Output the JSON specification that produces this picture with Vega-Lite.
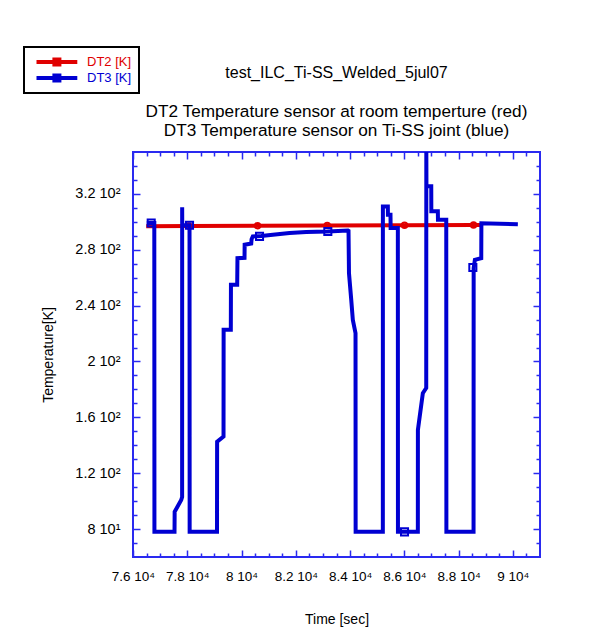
{
  "$schema": "https://vega.github.io/schema/vega-lite/v6.json",
  "width": 407,
  "height": 405,
  "autosize": {"type": "none"},
  "padding": {"left": 133, "top": 152, "right": 59, "bottom": 77},
  "background": "white",
  "title": {
    "text": "test_ILC_Ti-SS_Welded_5jul07",
    "subtitle": ["DT2 Temperature sensor at room temperture (red)", "DT3 Temperature sensor on Ti-SS joint (blue)"],
    "anchor": "middle",
    "frame": "group",
    "font": "Liberation Sans",
    "fontSize": 16,
    "fontWeight": "normal",
    "color": "black",
    "subtitleFont": "Liberation Sans",
    "subtitleFontSize": 17.2,
    "subtitleColor": "black",
    "subtitlePadding": 22,
    "subtitleLineHeight": 18.5,
    "offset": -93
  },
  "datasets": {
    "dt2": [
      {"i": 1, "t": 76487, "T": 296.8, "series": "DT2 [K]"},
      {"i": 2, "t": 78057, "T": 297.0, "series": "DT2 [K]"},
      {"i": 3, "t": 80589, "T": 297.2, "series": "DT2 [K]"},
      {"i": 4, "t": 83158, "T": 297.4, "series": "DT2 [K]"},
      {"i": 5, "t": 86007, "T": 297.6, "series": "DT2 [K]"},
      {"i": 6, "t": 88551, "T": 297.8, "series": "DT2 [K]"},
      {"i": 7, "t": 88835, "T": 297.8, "series": "DT2 [K]"}
    ],
    "dt2m": [
      {"t": 78057, "T": 297.0},
      {"t": 80589, "T": 297.2},
      {"t": 83158, "T": 297.4},
      {"t": 86007, "T": 297.6},
      {"t": 88551, "T": 297.8}
    ],
    "dt3": [
      {"i": 1, "t": 76509, "T": 299.2, "series": "DT3 [K]"},
      {"i": 2, "t": 76785, "T": 299.2, "series": "DT3 [K]"},
      {"i": 3, "t": 76790, "T": 78, "series": "DT3 [K]"},
      {"i": 4, "t": 77530, "T": 78, "series": "DT3 [K]"},
      {"i": 5, "t": 77535, "T": 92.4, "series": "DT3 [K]"},
      {"i": 6, "t": 77777, "T": 100.8, "series": "DT3 [K]"},
      {"i": 7, "t": 77810, "T": 103, "series": "DT3 [K]"},
      {"i": 8, "t": 77812, "T": 310.5, "series": "DT3 [K]"},
      {"i": 9, "t": 77815, "T": 297.5, "series": "DT3 [K]"},
      {"i": 10, "t": 78083, "T": 297.5, "series": "DT3 [K]"},
      {"i": 11, "t": 78088, "T": 78, "series": "DT3 [K]"},
      {"i": 12, "t": 79096, "T": 78, "series": "DT3 [K]"},
      {"i": 13, "t": 79100, "T": 142.5, "series": "DT3 [K]"},
      {"i": 14, "t": 79336, "T": 146.2, "series": "DT3 [K]"},
      {"i": 15, "t": 79340, "T": 222.7, "series": "DT3 [K]"},
      {"i": 16, "t": 79605, "T": 222.7, "series": "DT3 [K]"},
      {"i": 17, "t": 79610, "T": 255, "series": "DT3 [K]"},
      {"i": 18, "t": 79840, "T": 255, "series": "DT3 [K]"},
      {"i": 19, "t": 79850, "T": 274, "series": "DT3 [K]"},
      {"i": 20, "t": 80110, "T": 274.2, "series": "DT3 [K]"},
      {"i": 21, "t": 80115, "T": 283.6, "series": "DT3 [K]"},
      {"i": 22, "t": 80357, "T": 284.5, "series": "DT3 [K]"},
      {"i": 23, "t": 80370, "T": 287.5, "series": "DT3 [K]"},
      {"i": 24, "t": 80416, "T": 289.5, "series": "DT3 [K]"},
      {"i": 25, "t": 80725, "T": 289.8, "series": "DT3 [K]"},
      {"i": 26, "t": 81153, "T": 290.8, "series": "DT3 [K]"},
      {"i": 27, "t": 81769, "T": 292, "series": "DT3 [K]"},
      {"i": 28, "t": 82384, "T": 292.7, "series": "DT3 [K]"},
      {"i": 29, "t": 83180, "T": 293.1, "series": "DT3 [K]"},
      {"i": 30, "t": 83920, "T": 293.8, "series": "DT3 [K]"},
      {"i": 31, "t": 83943, "T": 293.5, "series": "DT3 [K]"},
      {"i": 32, "t": 83960, "T": 263.3, "series": "DT3 [K]"},
      {"i": 33, "t": 84043, "T": 244.2, "series": "DT3 [K]"},
      {"i": 34, "t": 84102, "T": 229.8, "series": "DT3 [K]"},
      {"i": 35, "t": 84201, "T": 220.3, "series": "DT3 [K]"},
      {"i": 36, "t": 84205, "T": 78, "series": "DT3 [K]"},
      {"i": 37, "t": 85208, "T": 78, "series": "DT3 [K]"},
      {"i": 38, "t": 85210, "T": 311, "series": "DT3 [K]"},
      {"i": 39, "t": 85392, "T": 311, "series": "DT3 [K]"},
      {"i": 40, "t": 85395, "T": 305, "series": "DT3 [K]"},
      {"i": 41, "t": 85490, "T": 305, "series": "DT3 [K]"},
      {"i": 42, "t": 85495, "T": 295.6, "series": "DT3 [K]"},
      {"i": 43, "t": 85761, "T": 295.6, "series": "DT3 [K]"},
      {"i": 44, "t": 85765, "T": 78, "series": "DT3 [K]"},
      {"i": 45, "t": 86498, "T": 78, "series": "DT3 [K]"},
      {"i": 46, "t": 86500, "T": 151, "series": "DT3 [K]"},
      {"i": 47, "t": 86682, "T": 177.3, "series": "DT3 [K]"},
      {"i": 48, "t": 86807, "T": 181, "series": "DT3 [K]"},
      {"i": 49, "t": 86810, "T": 356, "series": "DT3 [K]"},
      {"i": 50, "t": 86815, "T": 325.4, "series": "DT3 [K]"},
      {"i": 51, "t": 86992, "T": 325.4, "series": "DT3 [K]"},
      {"i": 52, "t": 86995, "T": 307.5, "series": "DT3 [K]"},
      {"i": 53, "t": 87235, "T": 307.5, "series": "DT3 [K]"},
      {"i": 54, "t": 87240, "T": 301.5, "series": "DT3 [K]"},
      {"i": 55, "t": 87545, "T": 301.5, "series": "DT3 [K]"},
      {"i": 56, "t": 87550, "T": 78, "series": "DT3 [K]"},
      {"i": 57, "t": 88551, "T": 78, "series": "DT3 [K]"},
      {"i": 58, "t": 88555, "T": 266.9, "series": "DT3 [K]"},
      {"i": 59, "t": 88600, "T": 272.8, "series": "DT3 [K]"},
      {"i": 60, "t": 88835, "T": 274, "series": "DT3 [K]"},
      {"i": 61, "t": 88840, "T": 299, "series": "DT3 [K]"},
      {"i": 62, "t": 90184, "T": 298.2, "series": "DT3 [K]"}
    ],
    "dt3m": [
      {"t": 76671, "T": 299.2},
      {"t": 78083, "T": 297.5},
      {"t": 80663, "T": 289.6},
      {"t": 83180, "T": 293.1},
      {"t": 86007, "T": 78},
      {"t": 88525, "T": 267.3}
    ]
  },
  "layer": [
    {
      "data": {"name": "dt2"},
      "mark": {"type": "line", "strokeWidth": 4, "clip": true},
      "encoding": {
        "x": {"field": "t", "type": "quantitative",
          "scale": {"domain": [76000, 91000], "nice": false, "zero": false},
          "axis": {"orient": "bottom", "values": [76000, 78000, 80000, 82000, 84000, 86000, 88000, 90000],
            "offset": -7, "tickSize": 7, "labelPadding": 12, "labelFlush": false, "labelOverlap": false,
            "labelExpr": "datum.value / 10000 + ' 10⁴'", "title": "Time [sec]", "titlePadding": 30}},
        "y": {"field": "T", "type": "quantitative",
          "scale": {"domain": [60, 350], "nice": false, "zero": false},
          "axis": {"orient": "left", "values": [80, 120, 160, 200, 240, 280, 320],
            "offset": -7, "tickSize": 7, "labelPadding": 13, "labelFlush": false, "labelOverlap": false,
            "labelFontSize": 14.5,
            "labelExpr": "datum.value >= 100 ? datum.value / 100 + ' 10²' : datum.value / 10 + ' 10¹'",
            "title": "Temperature[K]", "titlePadding": 19}},
        "color": {"field": "series", "type": "nominal",
          "scale": {"domain": ["DT2 [K]", "DT3 [K]"], "range": ["#e00000", "#0000d2"]},
          "legend": {"orient": "none", "legendX": -109, "legendY": -105, "title": null,
            "symbolType": "M-1,0H39.8M16.9,-2.5H21.9V2.5H16.9Z", "symbolSize": 4, "symbolStrokeWidth": 4,
            "labelFont": "Liberation Sans", "labelFontSize": 13, "labelOffset": 43,
            "padding": 7, "rowPadding": 0, "clipHeight": 16, "strokeColor": "black", "fillColor": "white",
            "encode": {"legend": {"update": {"strokeWidth": {"value": 2}}},
              "labels": {"update": {"fill": {"scale": "color", "field": "value"}}}}}},
        "order": {"field": "i", "type": "quantitative"}
      }
    },
    {
      "data": {"name": "dt2m"},
      "mark": {"type": "point", "shape": "circle", "filled": false, "color": "#e00000", "strokeWidth": 2, "size": 30, "opacity": 1},
      "encoding": {
        "x": {"field": "t", "type": "quantitative",
          "axis": {"orient": "top", "values": [76000, 78000, 80000, 82000, 84000, 86000, 88000, 90000],
            "offset": -7, "tickSize": 7, "labels": false, "title": null}},
        "y": {"field": "T", "type": "quantitative",
          "axis": {"orient": "right", "values": [80, 120, 160, 200, 240, 280, 320],
            "offset": -7, "tickSize": 7, "labels": false, "title": null}}
      }
    },
    {
      "data": {"name": "dt3"},
      "mark": {"type": "line", "strokeWidth": 4, "clip": true},
      "encoding": {
        "x": {"field": "t", "type": "quantitative",
          "axis": {"orient": "bottom", "values": [76500, 77000, 77500, 78500, 79000, 79500, 80500, 81000, 81500, 82500, 83000, 83500, 84500, 85000, 85500, 86500, 87000, 87500, 88500, 89000, 89500, 90500],
            "offset": -4, "tickSize": 4, "labels": false, "title": null}},
        "y": {"field": "T", "type": "quantitative",
          "axis": {"orient": "left", "values": [70, 90, 100, 110, 130, 140, 150, 170, 180, 190, 210, 220, 230, 250, 260, 270, 290, 300, 310, 330, 340],
            "offset": -4, "tickSize": 4, "labels": false, "title": null}},
        "color": {"field": "series", "type": "nominal"},
        "order": {"field": "i", "type": "quantitative"}
      }
    },
    {
      "data": {"name": "dt3m"},
      "mark": {"type": "point", "shape": "square", "filled": false, "color": "#0000d2", "strokeWidth": 2, "size": 50, "opacity": 1},
      "encoding": {
        "x": {"field": "t", "type": "quantitative",
          "axis": {"orient": "top", "values": [76500, 77000, 77500, 78500, 79000, 79500, 80500, 81000, 81500, 82500, 83000, 83500, 84500, 85000, 85500, 86500, 87000, 87500, 88500, 89000, 89500, 90500],
            "offset": -4, "tickSize": 4, "labels": false, "title": null}},
        "y": {"field": "T", "type": "quantitative",
          "axis": {"orient": "right", "values": [70, 90, 100, 110, 130, 140, 150, 170, 180, 190, 210, 220, 230, 250, 260, 270, 290, 300, 310, 330, 340],
            "offset": -4, "tickSize": 4, "labels": false, "title": null}}
      }
    }
  ],
  "resolve": {
    "scale": {"x": "shared", "y": "shared", "color": "shared"},
    "axis": {"x": "independent", "y": "independent"}
  },
  "config": {
    "view": {"stroke": "#2a2af0", "strokeWidth": 2},
    "axis": {
      "domain": false, "grid": false,
      "tickColor": "#2a2af0", "tickWidth": 1.5,
      "labelFont": "Liberation Sans", "labelFontSize": 13.5, "labelColor": "black",
      "titleFont": "Liberation Sans", "titleFontSize": 14, "titleFontWeight": "normal", "titleColor": "black"
    }
  }
}
